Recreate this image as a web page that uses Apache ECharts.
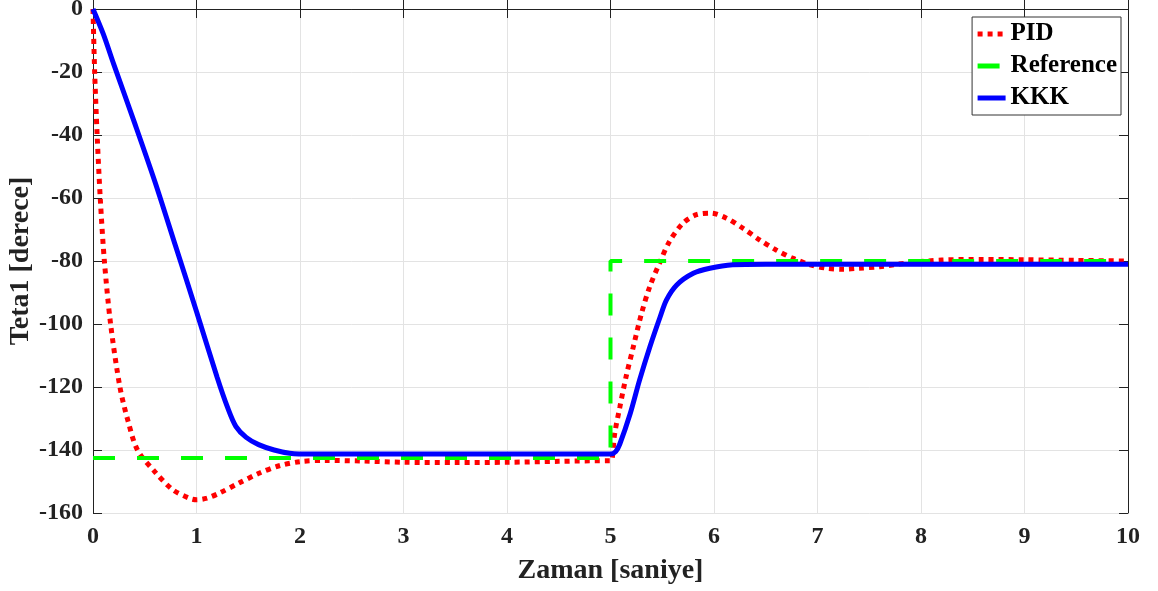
<!DOCTYPE html>
<html>
<head>
<meta charset="utf-8">
<script src="https://cdn.jsdelivr.net/npm/echarts@6/dist/echarts.min.js"></script>
<style>html,body{margin:0;padding:0;background:#fff}#c{width:1158px;height:591px}</style>
</head>
<body>
<div id="c"></div>
<script>
// ---- data ----
const xTicks = [0,1,2,3,4,5,6,7,8,9,10];
const yTicks = [-160,-140,-120,-100,-80,-60,-40,-20,0];

const pidT = [0,0.016,0.04,0.07,0.11,0.17,0.26,0.34,0.43,0.6,0.77,0.93,1.0,1.1,1.22,1.41,1.61,1.8,2.0,2.25,2.6,3.0,3.5,4.0,4.5,5.0,5.01,5.04,5.09,5.15,5.22,5.3,5.38,5.48,5.57,5.7,5.83,5.97,6.12,6.28,6.44,6.6,6.76,6.93,7.09,7.25,7.4,7.6,7.9,8.2,8.6,9.0,9.5,10];
const pidV = [0,-20,-40,-60,-80,-100,-120,-131,-140,-147,-152.6,-155.3,-155.8,-155.3,-153.7,-150.5,-147.3,-145,-143.7,-143.3,-143.5,-143.9,-144.0,-143.9,-143.6,-143.4,-143.4,-134.9,-126.4,-116.8,-107.3,-96.6,-88.1,-80.2,-73.8,-68,-65.3,-64.8,-66.4,-69.6,-73.3,-76.5,-79.1,-81.2,-82.3,-82.6,-82.3,-81.8,-80.5,-79.7,-79.5,-79.6,-79.8,-80];

const refT = [0,5,5,10];
const refV = [-142.5,-142.5,-80,-80];

const kkkT = [0,0.1,0.2,0.4,0.6,0.8,1.0,1.2,1.3,1.38,1.48,1.6,1.75,1.9,2.1,5.0,5.05,5.09,5.19,5.28,5.38,5.48,5.54,5.64,5.8,5.96,6.18,6.5,10];
const kkkV = [0,-8,-17.5,-36,-55,-75.5,-96,-117,-126.5,-132.5,-136,-138.3,-140,-141,-141.3,-141.3,-140.5,-138.1,-128.5,-117.9,-107.3,-97.7,-92.4,-87.6,-83.9,-82.3,-81.2,-81,-81];

const seriesNames = ['PID','Reference','KKK'];

function zip(a,b){ return a.map((t,i)=>[t,b[i]]); }

const FONT = '"Liberation Serif","Times New Roman",serif';
const chart = echarts.init(document.getElementById('c'), null, {renderer:'canvas'});

const baseX = {type:'value', min:xTicks[0], max:xTicks[xTicks.length-1], interval:1};
const baseY = {type:'value', min:yTicks[0], max:yTicks[yTicks.length-1], interval:20};

chart.setOption({
  animation:false,
  backgroundColor:'#fff',
  grid:{left:93, right:30, top:9, bottom:78, containLabel:false, outerBoundsMode:'none'},
  legend:{
    data:seriesNames,
    orient:'vertical',
    right:37, top:17,
    backgroundColor:'#fff',
    borderColor:'#333', borderWidth:1,
    padding:[3,4,3,3],
    itemWidth:28, itemHeight:14, itemGap:4,
    align:'left',
    itemStyle:{opacity:0},
    lineStyle:{width:5},
    textStyle:{fontFamily:FONT, fontWeight:'bold', fontSize:25, color:'#000', lineHeight:28}
  },
  xAxis:[
    Object.assign({}, baseX, {
      position:'bottom',
      name:'Zaman [saniye]', nameLocation:'middle', nameGap:44, nameMoveOverlap:false,
      nameTextStyle:{fontFamily:FONT, fontWeight:'bold', fontSize:28, color:'#222'},
      axisLine:{show:true, lineStyle:{color:'#222', width:1}},
      axisTick:{show:true, inside:true, length:9, lineStyle:{color:'#222'}},
      axisLabel:{fontFamily:FONT, fontWeight:'bold', fontSize:24, color:'#222', margin:12},
      splitLine:{show:true, lineStyle:{color:'#e3e3e3', width:1}}
    }),
    Object.assign({}, baseX, {
      position:'top',
      axisLine:{show:true, onZero:false, lineStyle:{color:'#222', width:1}},
      axisTick:{show:true, inside:true, length:9, lineStyle:{color:'#222'}},
      axisLabel:{show:false},
      splitLine:{show:false}
    })
  ],
  yAxis:[
    Object.assign({}, baseY, {
      position:'left',
      name:'Teta1 [derece]', nameLocation:'middle', nameGap:58, nameMoveOverlap:false,
      nameTextStyle:{fontFamily:FONT, fontWeight:'bold', fontSize:28, color:'#222'},
      axisLine:{show:true, onZero:false, lineStyle:{color:'#222', width:1}},
      axisTick:{show:true, inside:true, length:9, lineStyle:{color:'#222'}},
      axisLabel:{fontFamily:FONT, fontWeight:'bold', fontSize:24, color:'#222', margin:10},
      splitLine:{show:true, lineStyle:{color:'#e3e3e3', width:1}}
    }),
    Object.assign({}, baseY, {
      position:'right',
      axisLine:{show:true, onZero:false, lineStyle:{color:'#222', width:1}},
      axisTick:{show:true, inside:true, length:9, lineStyle:{color:'#222'}},
      axisLabel:{show:false},
      splitLine:{show:false}
    })
  ],
  series:[
    {name:'PID', type:'line', data:zip(pidT,pidV), symbol:'none', smooth:0.3, z:2,
     lineStyle:{color:'#ff0000', width:5, type:[5,5], cap:'butt'}, itemStyle:{color:'#ff0000'}},
    {name:'Reference', type:'line', data:zip(refT,refV), symbol:'none', z:3,
     lineStyle:{color:'#00ff00', width:4, type:[22,22], cap:'butt'}, itemStyle:{color:'#00ff00'}},
    {name:'KKK', type:'line', data:zip(kkkT,kkkV), symbol:'none', smooth:0.3, z:4,
     lineStyle:{color:'#0000ff', width:5}, itemStyle:{color:'#0000ff'}}
  ]
});
</script>
</body>
</html>
